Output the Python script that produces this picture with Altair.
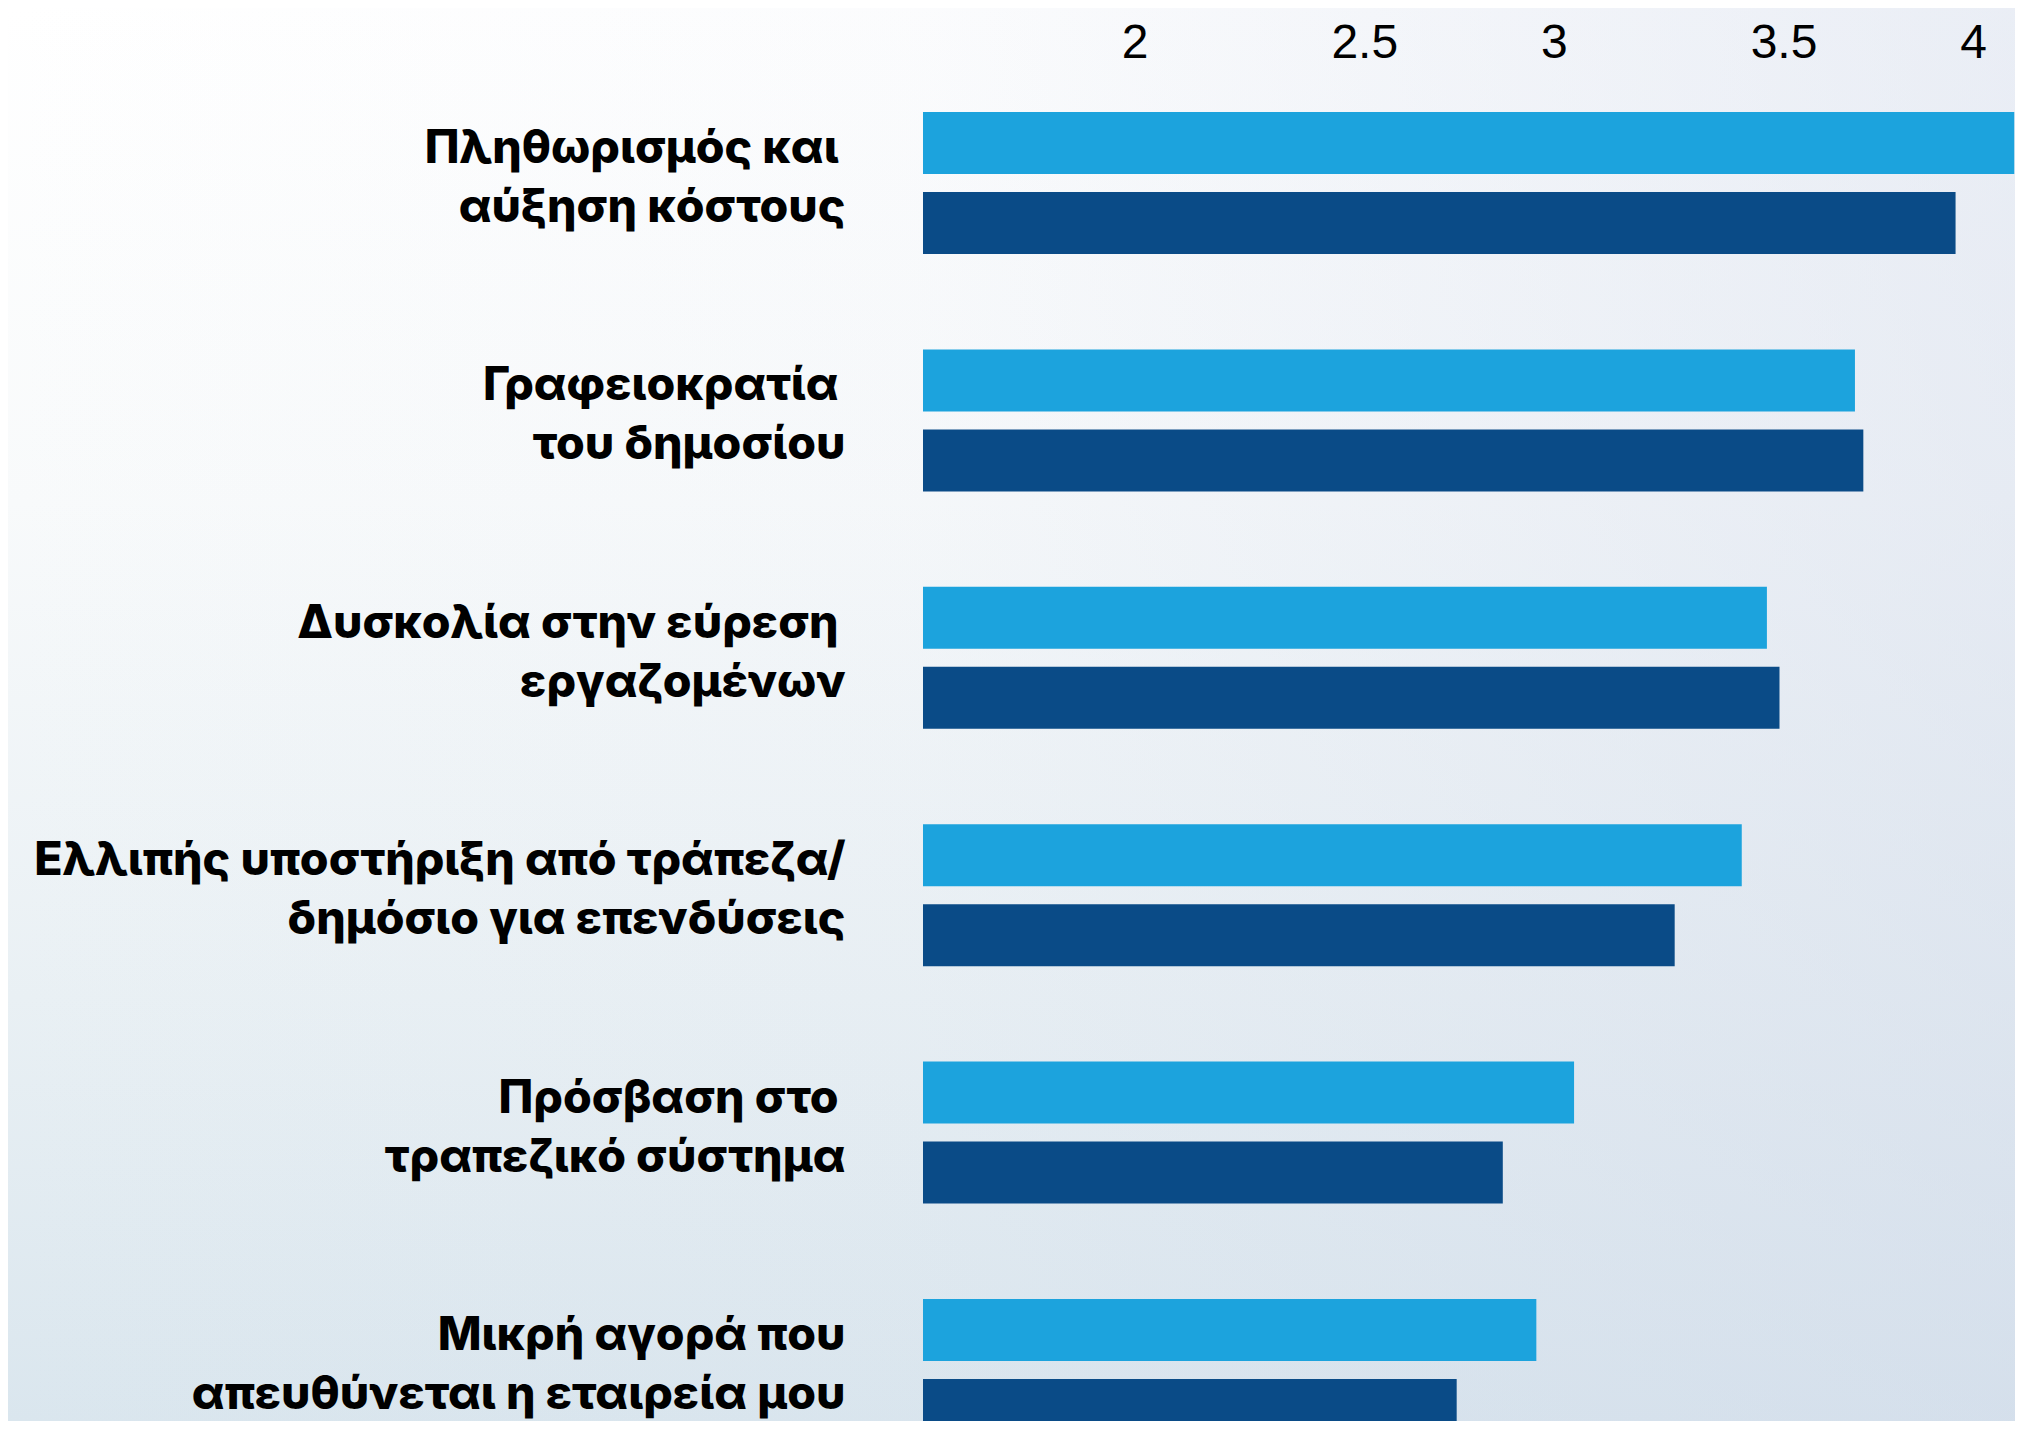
import altair as alt
import pandas as pd

# ---- data ----
# (a thin space + zero-width space keeps the small trailing gap seen on some first lines)
categories = [
    "Πληθωρισμός και\u2009\u200b\nαύξηση κόστους",
    "Γραφειοκρατία\u2009\u200b\nτου δημοσίου",
    "Δυσκολία στην εύρεση\u2009\u200b\nεργαζομένων",
    "Ελλιπής υποστήριξη από τράπεζα/\nδημόσιο για επενδύσεις",
    "Πρόσβαση στο\u2009\u200b\nτραπεζικό σύστημα",
    "Μικρή αγορά που\nαπευθύνεται η εταιρεία μου",
]
series = ["Σειρά Α", "Σειρά Β"]
values_a = [4.13, 3.75, 3.54, 3.48, 3.08, 2.99]
values_b = [3.99, 3.77, 3.57, 3.32, 2.91, 2.80]
tick_values = [2, 2.5, 3, 3.5, 4]
colors = ["#1ca3dd", "#0a4b87"]

X_MIN, X_MAX = 1.527, 4.127
W, H = 1090, 1309          # visible plot area
Y_RANGE = [0, 1329]        # band range (last group runs past the bottom edge)
PAD = {"left": 915, "top": 104, "right": 2, "bottom": 0}

rows = []
for s, vals in zip(series, [values_a, values_b]):
    for c, v in zip(categories, vals):
        rows.append({"cat": c, "series": s, "value": v})
df = pd.DataFrame(rows)

one = pd.DataFrame({"k": [0]})

bg_vertical = alt.Chart(one).mark_rect(
    fill={
        "gradient": "linear", "x1": 0, "y1": 0, "x2": 0, "y2": 1,
        "stops": [
            {"offset": 0, "color": "#ffffff"},
            {"offset": 0.35, "color": "#f8fafb"},
            {"offset": 0.7, "color": "#e9f0f4"},
            {"offset": 1, "color": "#dae6ee"},
        ],
    }
).encode(
    x=alt.value(-PAD["left"]), x2=alt.value(W + PAD["right"]),
    y=alt.value(-PAD["top"]), y2=alt.value(H + PAD["bottom"]),
)

bg_horizontal = alt.Chart(one).mark_rect(
    fill={
        "gradient": "linear", "x1": 0, "y1": 0, "x2": 1, "y2": 0,
        "stops": [
            {"offset": 0, "color": "rgba(205,214,232,0)"},
            {"offset": 0.45, "color": "rgba(205,214,232,0.08)"},
            {"offset": 1, "color": "rgba(205,214,232,0.42)"},
        ],
    }
).encode(
    x=alt.value(-PAD["left"]), x2=alt.value(W + PAD["right"]),
    y=alt.value(-PAD["top"]), y2=alt.value(H + PAD["bottom"]),
)

bars = alt.Chart(df).mark_bar().encode(
    x=alt.X(
        "value:Q",
        scale=alt.Scale(domain=[X_MIN, X_MAX], nice=False, zero=False),
        axis=alt.Axis(
            orient="top", values=tick_values, format=".1~f", title=None,
            grid=False, domain=False, ticks=False, tickSize=0,
            labelAlign="left", labelBaseline="alphabetic", labelPadding=55,
            labelFont="Liberation Sans", labelFontSize=48, labelColor="#000000",
            labelFlush=False, labelOverlap=False, zindex=1,
        ),
    ),
    x2=alt.datum(X_MIN),
    y=alt.Y(
        "cat:N", sort=categories,
        scale=alt.Scale(range=Y_RANGE, paddingInner=0.4019, paddingOuter=0),
        axis=alt.Axis(
            title=None, domain=False, ticks=False, tickSize=0,
            labelPadding=78, labelAlign="right", labelBaseline="middle",
            labelOffset=-34,
            labelFont="Inter", labelFontWeight=800, labelFontSize=46.5,
            labelLineHeight=59, labelColor="#000000", labelLimit=2000,
            labelExpr="split(datum.label, '\\n')", zindex=1,
        ),
    ),
    yOffset=alt.YOffset(
        "series:N", sort=series,
        scale=alt.Scale(paddingInner=0.225, paddingOuter=0),
    ),
    color=alt.Color("series:N", scale=alt.Scale(domain=series, range=colors), legend=None),
)

chart = alt.layer(bg_vertical, bg_horizontal, bars).properties(
    width=W, height=H, padding=PAD, autosize="none", background="#ffffff",
).configure_view(stroke=None)

chart.save("out.html", embed_options={"renderer": "svg", "actions": False})
